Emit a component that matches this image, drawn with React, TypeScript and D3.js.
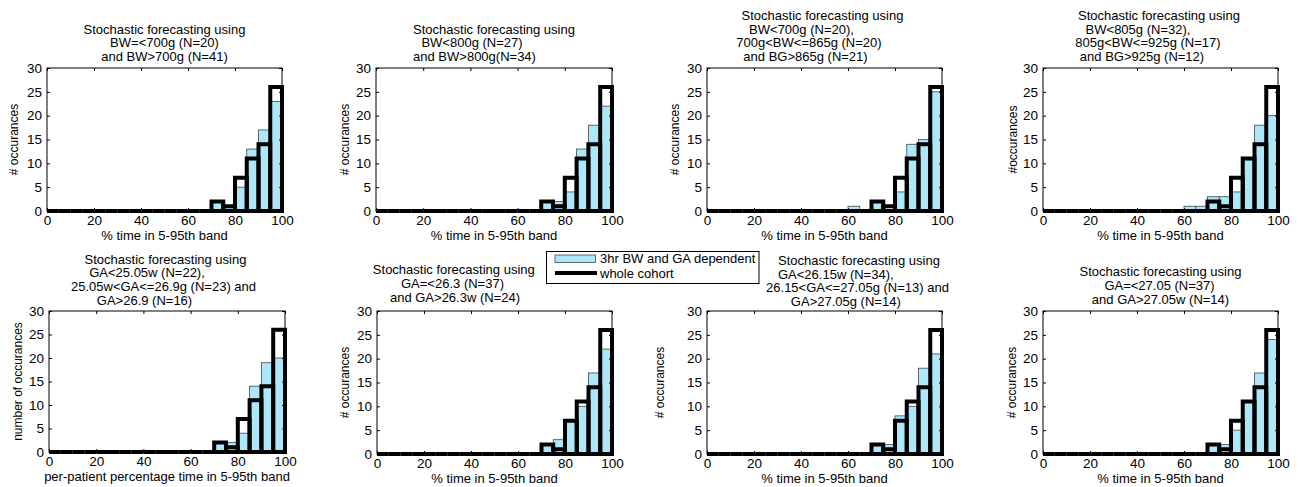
import { useEffect, useRef } from 'react';
import * as d3 from 'd3';

// histogram bins (% time in 5-95th band), width 5
const binStarts = [0, 5, 10, 15, 20, 25, 30, 35, 40, 45, 50, 55, 60, 65, 70, 75, 80, 85, 90, 95];
const binWidth = 5;

const xTicks = [0, 20, 40, 60, 80, 100];
const yTicks = [0, 5, 10, 15, 20, 25, 30];

// whole cohort, same in every panel
const wholeCohort = [0, 0, 0, 0, 0, 0, 0, 0, 0, 0, 0, 0, 0, 0, 2, 1, 7, 11, 14, 26];

// 3hr BW and GA dependent forecasts
const bw700 = [0, 0, 0, 0, 0, 0, 0, 0, 0, 0, 0, 0, 0, 0, 2, 1, 5, 13, 17, 23];
const bw800 = [0, 0, 0, 0, 0, 0, 0, 0, 0, 0, 0, 0, 0, 0, 2, 2, 4, 13, 18, 22];
const bw700_865 = [0, 0, 0, 0, 0, 0, 0, 0, 0, 0, 0, 0, 1, 0, 2, 0, 4, 14, 15, 25];
const bw805_925 = [0, 0, 0, 0, 0, 0, 0, 0, 0, 0, 0, 0, 1, 1, 3, 3, 4, 11, 18, 20];
const ga2505_269 = [0, 0, 0, 0, 0, 0, 0, 0, 0, 0, 0, 0, 0, 0, 2, 2, 4, 14, 19, 20];
const ga263 = [0, 0, 0, 0, 0, 0, 0, 0, 0, 0, 0, 0, 0, 0, 2, 3, 7, 10, 17, 22];
const ga2615_2705 = [0, 0, 0, 0, 0, 0, 0, 0, 0, 0, 0, 0, 0, 0, 2, 2, 8, 10, 18, 21];
const ga2705 = [0, 0, 0, 0, 0, 0, 0, 0, 0, 0, 0, 0, 0, 0, 2, 2, 5, 11, 17, 24];

const titles = [
  ['Stochastic forecasting using', 'BW=<700g (N=20)', 'and BW>700g (N=41)'],
  ['Stochastic forecasting using', 'BW<800g (N=27)', 'and BW>800g(N=34)'],
  ['Stochastic forecasting using', 'BW<700g (N=20),', '700g<BW<=865g (N=20)', 'and BG>865g (N=21)'],
  ['Stochastic forecasting using', 'BW<805g (N=32),', '805g<BW<=925g (N=17)', 'and BG>925g (N=12)'],
  ['Stochastic forecasting using', 'GA<25.05w (N=22),', '25.05w<GA<=26.9g (N=23) and', 'GA>26.9 (N=16)'],
  ['Stochastic forecasting using', 'GA=<26.3 (N=37)', 'and GA>26.3w (N=24)'],
  ['Stochastic forecasting using', 'GA<26.15w (N=34),', '26.15<GA<=27.05g (N=13) and', 'GA>27.05g (N=14)'],
  ['Stochastic forecasting using', 'GA=<27.05 (N=37)', 'and GA>27.05w (N=14)'],
];
const yLabels = ['# occurances', '# occurances', '# occurances', '#occurances',
  'number of occurances', '# occurances', '# occurances', '# occurances'];
const xLabels = ['% time in 5-95th band', '% time in 5-95th band', '% time in 5-95th band', '% time in 5-95th band',
  'per-patient percentage time in 5-95th band', '% time in 5-95th band', '% time in 5-95th band', '% time in 5-95th band'];
const series = [bw700, bw800, bw700_865, bw805_925, ga2505_269, ga263, ga2615_2705, ga2705];
const legendLabels = ['3hr BW and GA dependent', 'whole cohort'];

// layout: axes box [x, y, w, h], y-label centre x, title gap, per-line title shifts
const layout = [
  { ax: [47, 68, 235, 143], ylx: 14, gap: 7, dx: [0, 0, 0] },
  { ax: [376, 68, 236, 143], ylx: 345, gap: 7, dx: [0, -22, -19.5] },
  { ax: [707, 68, 235, 143], ylx: 675, gap: 7, dx: [-2, -23, -15.5, -19] },
  { ax: [1043, 68, 235, 143], ylx: 1013, gap: 7, dx: [-1.5, -22.5, -12.5, -18.5] },
  { ax: [49, 311, 236, 141], ylx: 18, gap: 6.5, dx: [-1.5, -20, -3.5, -22.5] },
  { ax: [377, 311, 235, 143], ylx: 345, gap: 9.5, dx: [-40.7, -42, -39.5] },
  { ax: [707, 311, 235, 143], ylx: 660, gap: 5, dx: [34.5, 11.3, 33, 21.3] },
  { ax: [1043, 311, 235, 143], ylx: 1012, gap: 7.5, dx: [0, -1, 0] },
];

const FONT = '"Liberation Sans", Arial, sans-serif';
const BLUE = '#aee7f9';

export default function App() {
  const ref = useRef(null);

  useEffect(() => {
    const svg = d3.select(ref.current);
    svg.selectAll('*').remove();
    svg.append('rect').attr('width', 1302).attr('height', 487).attr('fill', '#fff');

    layout.forEach((lay, i) => {
      const [ax, ay, aw, ah] = lay.ax;
      const x = d3.scaleLinear().domain([0, 100]).range([ax, ax + aw]);
      const y = d3.scaleLinear().domain([0, 30]).range([ay + ah, ay]);
      const g = svg.append('g');

      // blue bars
      g.selectAll('rect.blue')
        .data(binStarts.map((s, k) => ({ s, v: series[i][k] })).filter(d => d.v > 0))
        .join('rect')
        .attr('x', d => x(d.s))
        .attr('width', d => x(d.s + binWidth) - x(d.s))
        .attr('y', d => y(d.v))
        .attr('height', d => y(0) - y(d.v))
        .attr('fill', BLUE)
        .attr('stroke', '#3a4a50')
        .attr('stroke-width', 0.8);

      // box
      g.append('rect')
        .attr('x', ax).attr('y', ay).attr('width', aw).attr('height', ah)
        .attr('fill', 'none').attr('stroke', '#000').attr('stroke-width', 1);

      // whole cohort outlines
      g.selectAll('path.whole')
        .data(binStarts.map((s, k) => ({ s, v: wholeCohort[k] })))
        .join('path')
        .attr('d', d => {
          const x0 = x(d.s), x1 = x(d.s + binWidth), y0 = y(0), y1 = y(d.v);
          return `M${x0},${y0}L${x0},${y1}L${x1},${y1}L${x1},${y0}Z`;
        })
        .attr('fill', 'none')
        .attr('stroke', '#000')
        .attr('stroke-width', 4)
        .attr('stroke-linejoin', 'miter');

      const style = (sel) => {
        sel.select('.domain').remove();
        sel.selectAll('text').attr('font-family', FONT).attr('font-size', 13.5).attr('fill', '#000');
        sel.selectAll('line').attr('stroke', '#000');
      };

      g.append('g').attr('transform', `translate(0,${ay + ah})`)
        .call(d3.axisBottom(x).tickValues(xTicks).tickSize(-3).tickPadding(4.5))
        .call(style);
      g.append('g').attr('transform', `translate(0,${ay})`)
        .call(d3.axisTop(x).tickValues(xTicks).tickSize(-3).tickFormat(() => ''))
        .call(style);
      g.append('g').attr('transform', `translate(${ax},0)`)
        .call(d3.axisLeft(y).tickValues(yTicks).tickSize(-3).tickPadding(5))
        .call(style);
      g.append('g').attr('transform', `translate(${ax + aw},0)`)
        .call(d3.axisRight(y).tickValues(yTicks).tickSize(-3).tickFormat(() => ''))
        .call(style);

      // title
      const lines = titles[i];
      const cx = ax + aw / 2;
      const lastBase = ay - lay.gap;
      lines.forEach((t, k) => {
        g.append('text')
          .attr('x', cx + lay.dx[k])
          .attr('y', lastBase - (lines.length - 1 - k) * 13.6)
          .attr('text-anchor', 'middle')
          .attr('font-family', FONT).attr('font-size', 13)
          .text(t);
      });

      // x label
      g.append('text')
        .attr('x', cx).attr('y', ay + ah + 29)
        .attr('text-anchor', 'middle')
        .attr('font-family', FONT).attr('font-size', 13)
        .text(xLabels[i]);

      // y label
      g.append('text')
        .attr('transform', `translate(${lay.ylx},${ay + ah / 2}) rotate(-90)`)
        .attr('text-anchor', 'middle')
        .attr('dominant-baseline', 'central')
        .attr('font-family', FONT).attr('font-size', 12)
        .text(yLabels[i]);
    });

    // legend
    const lg = svg.append('g');
    lg.append('rect').attr('x', 546.5).attr('y', 251.5).attr('width', 212.5).attr('height', 32)
      .attr('fill', '#fff').attr('stroke', '#000').attr('stroke-width', 1);
    lg.append('rect').attr('x', 555).attr('y', 255).attr('width', 40.5).attr('height', 7.5)
      .attr('fill', BLUE).attr('stroke', '#3a4a50').attr('stroke-width', 0.8);
    lg.append('line').attr('x1', 555).attr('x2', 597).attr('y1', 273).attr('y2', 273)
      .attr('stroke', '#000').attr('stroke-width', 4);
    legendLabels.forEach((t, k) => {
      lg.append('text')
        .attr('x', 600).attr('y', 258.5 + k * 15)
        .attr('dominant-baseline', 'central')
        .attr('font-family', FONT).attr('font-size', 13)
        .text(t);
    });
  }, []);

  return (
    <svg ref={ref} width={1302} height={487}
      style={{ position: 'absolute', left: 0, top: 0, display: 'block' }} />
  );
}
